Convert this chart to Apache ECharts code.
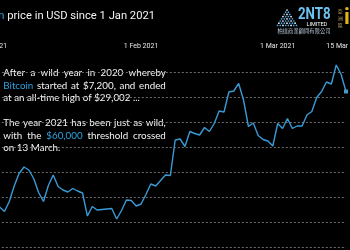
<!DOCTYPE html>
<html><head><meta charset="utf-8">
<script src="https://cdn.jsdelivr.net/npm/echarts@6/dist/echarts.min.js"></script>
<style>html,body{margin:0;padding:0;background:#000}#c{width:350px;height:250px}</style>
</head><body><div id="c"></div>
<script>
// ---- data ----
const prices = [29400, 32300, 33000, 32100, 34100, 37200, 39700, 41000, 40400, 38700,
  35900, 34100, 37300, 39400, 37100, 36400, 36000, 36700, 36200, 35800,
  31200, 33100, 32400, 32500, 32600, 32700, 30600, 32300, 34400, 34300,
  33200, 33600, 35500, 37600, 37200, 38300, 39400, 39300, 46400, 46600,
  45100, 48100, 47700, 47400, 48900, 48100, 49700, 52200, 52000, 56000,
  56200, 57700, 54400, 49100, 49800, 47300, 46500, 46200, 45200, 49700,
  48700, 50700, 48700, 49200, 49200, 51400, 52100, 54900, 56100, 58000,
  57600, 61400, 59500, 56100];
const tickLabels = ['1 Jan 2021', '1 Feb 2021', '1 Mar 2021', '15 Mar 2021'];
const months = ['Jan', 'Feb', 'Mar'];
const categories = prices.map((_, i) => {
  const d = new Date(2021, 0, 1 + i);
  return d.getDate() + ' ' + months[d.getMonth()] + ' 2021';
});
const titleBlue = 'Bitcoin';
const titleRest = 'price in USD since 1 Jan 2021';
const textLines = ['After a wild year in 2020 whereby', 'Bitcoin started at $7,200, and ended',
  'at an all-time high of $29,002 ...', 'The year 2021 has been just as wild,',
  'with the $60,000 threshold crossed', 'on 13 March.'];
const justified = [true, true, false, true, true, false];
const highlightWords = ['Bitcoin', '$60,000'];

// ---- layout ----
const BLUE = '#2fa3e0';
const lineYs = [73, 85.5, 98, 123, 135.5, 148];
const cv = document.createElement('canvas').getContext('2d');
function measure(t, f) { cv.font = f; return cv.measureText(t).width; }

const g = [];
// title
const tFs = 12 * 148 / measure(titleRest, '12px Roboto');
g.push({type: 'text', x: 4.5, y: 16.5, style: {text: titleBlue, fill: BLUE, font: tFs + 'px Roboto', textAlign: 'right', align: 'right', textVerticalAlign: 'middle', verticalAlign: 'middle'}});
g.push({type: 'text', x: 7.3, y: 16.5, style: {text: titleRest, fill: '#f2f2f2', font: tFs + 'px Roboto', textAlign: 'left', align: 'left', textVerticalAlign: 'middle', verticalAlign: 'middle'}});

// paragraph (justified)
const pFs = 12 * 156 / measure(textLines[3], '12px Lato');
const pFont = pFs + 'px Lato';
const X0 = 3.3, X1 = 165.8;
textLines.forEach((ln, li) => {
  const words = ln.split(' ');
  const ws = words.map(w => measure(w, pFont));
  const tot = ws.reduce((a, b) => a + b, 0);
  const gap = justified[li] ? (X1 - X0 - tot) / (words.length - 1) : measure(' ', pFont);
  let x = X0;
  words.forEach((w, wi) => {
    g.push({type: 'text', x: x, y: lineYs[li], style: {text: w, fill: highlightWords.includes(w) ? BLUE : '#f4f4f4', font: pFont, textAlign: 'left', align: 'left', textVerticalAlign: 'middle', verticalAlign: 'middle'}});
    x += ws[wi] + gap;
  });
});

// logo
for (let r = 0; r < 8; r++) {
  for (let k = 0; k <= r; k++) {
    const cx = 287 - r * 1.35 + k * 2.7, cy = 10 + r * 2.2;
    g.push({type: 'circle', shape: {cx: cx, cy: cy, r: 0.85}, style: {fill: (k + r) % 3 === 0 ? '#ffffff' : '#4aa6e2'}});
  }
}
g.push({type: 'text', x: 298, y: 15, scaleX: 0.78, style: {text: '2NT8', fill: '#6cc2f0', font: 'bold 17px Roboto', textVerticalAlign: 'middle', verticalAlign: 'middle'}});
g.push({type: 'text', x: 306.5, y: 24.5, style: {text: 'LIMITED', fill: '#ffffff', font: '5.5px Roboto', textVerticalAlign: 'middle', verticalAlign: 'middle'}});
g.push({type: 'text', x: 277.5, y: 30.5, style: {text: '柏達商業顧問有限公司', fill: '#b8c8d8', font: '5.3px "Noto Sans CJK TC"', textVerticalAlign: 'middle', verticalAlign: 'middle'}});
['亞', '洲', '區'].forEach((c, i) => g.push({type: 'text', x: 337.8, y: 11 + i * 7, style: {text: c, fill: '#c9b06a', font: '5px "Noto Sans CJK TC"', textVerticalAlign: 'middle', verticalAlign: 'middle'}}));
g.push({type: 'text', x: 344, y: 18, style: {text: 'i', fill: '#e2b21c', font: 'bold 22px Roboto', textVerticalAlign: 'middle', verticalAlign: 'middle'}});

const chart = echarts.init(document.getElementById('c'), null, {renderer: 'canvas'});
chart.setOption({
  backgroundColor: '#000',
  animation: false,
  grid: {left: -10.2, right: 4, top: 62, bottom: -22, containLabel: false, outerBoundsMode: 'none'},
  xAxis: {
    type: 'category', position: 'top', boundaryGap: false, data: categories,
    axisLine: {show: false}, axisTick: {show: false}, splitLine: {show: false},
    axisLabel: {
      interval: (i, v) => tickLabels.includes(v), color: '#e6e6e6', fontSize: 7,
      fontFamily: 'Roboto', margin: 12, showMinLabel: true, showMaxLabel: true
    }
  },
  yAxis: {
    type: 'value', min: 20000, max: 62000, interval: 5000,
    axisLine: {show: false}, axisTick: {show: false}, axisLabel: {show: false},
    splitLine: {show: true, showMaxLine: false, lineStyle: {color: '#6e6e6e', type: [2, 2], width: 1}}
  },
  series: [
    {type: 'line', data: prices, symbol: 'none', lineStyle: {color: '#3a9ad6', width: 1.4}},
    {type: 'scatter', data: prices.map((v, i) => i === prices.length - 1 ? v : '-'), symbol: 'rect', symbolSize: 4, itemStyle: {color: '#58c4f5'}}
  ],
  graphic: g
});
</script></body></html>
